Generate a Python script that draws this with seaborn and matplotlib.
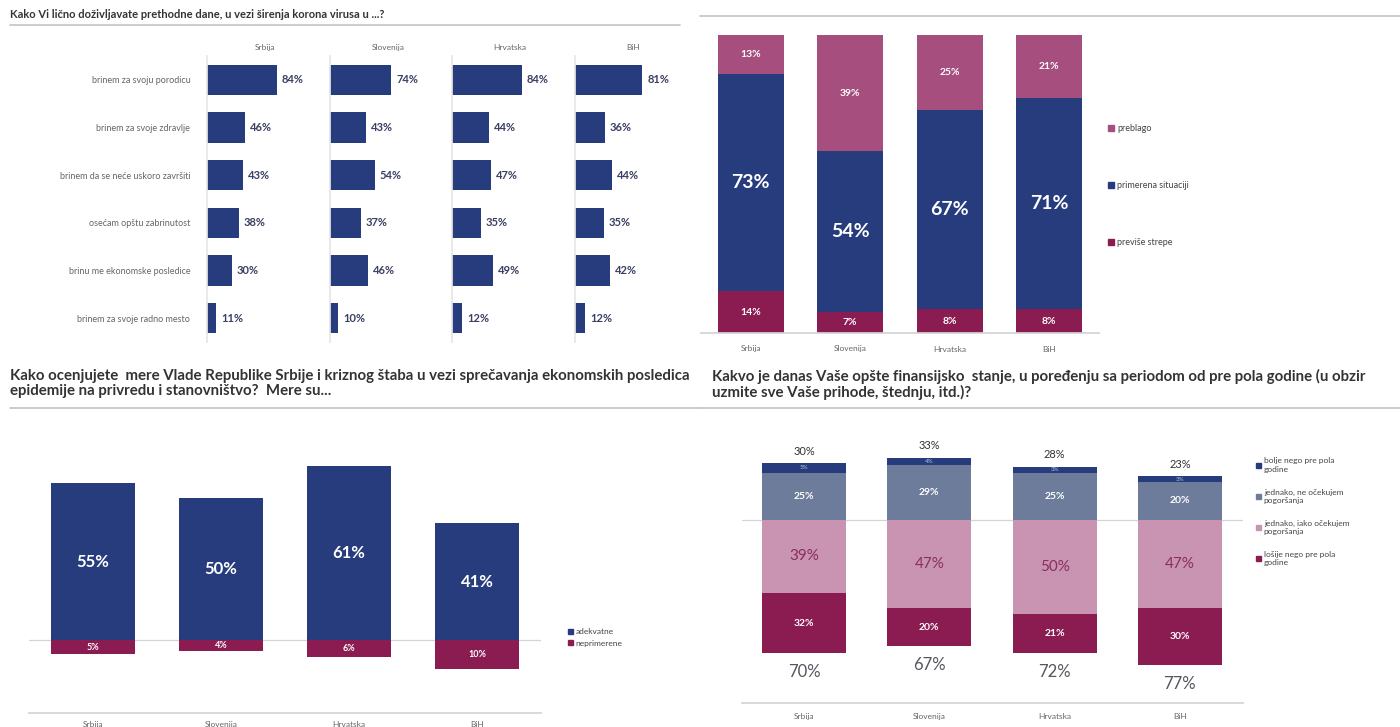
import pandas as pd
import seaborn as sns
import matplotlib.pyplot as plt
from matplotlib.lines import Line2D
from matplotlib.patches import Patch

countries = ['Srbija', 'Slovenija', 'Hrvatska', 'BiH']

# 1) licni dozivljaj - horizontalni barovi po zemlji
worry_labels = ['brinem za svoju porodicu', 'brinem za svoje zdravlje',
                'brinem da se neće uskoro završiti', 'osećam opštu zabrinutost',
                'brinu me ekonomske posledice', 'brinem za svoje radno mesto']
worry_srbija = [84, 46, 43, 38, 30, 11]
worry_slovenija = [74, 43, 54, 37, 46, 10]
worry_hrvatska = [84, 44, 47, 35, 49, 12]
worry_bih = [81, 36, 44, 35, 42, 12]

# 2) reakcija - 100% stacked
reaction_labels = ['preblago', 'primerena situaciji', 'previše strepe']
reaction_mild = [13, 39, 25, 21]
reaction_fit = [73, 54, 67, 71]
reaction_fear = [14, 7, 8, 8]

# 3) mere Vlade
measures_labels = ['adekvatne', 'neprimerene']
measures_ok = [55, 50, 61, 41]
measures_bad = [5, 4, 6, 10]

# 4) finansijsko stanje
finance_labels = ['bolje nego pre pola\ngodine', 'jednako, ne očekujem\npogoršanja',
                  'jednako, iako očekujem\npogoršanja', 'lošije nego pre pola\ngodine']
finance_better = [5, 4, 3, 3]
finance_same_ok = [25, 29, 25, 20]
finance_same_worry = [39, 47, 50, 47]
finance_worse = [32, 20, 21, 30]
finance_up_total = [30, 33, 28, 23]
finance_down_total = [70, 67, 72, 77]

NAVY = '#263c7c'
CRIMSON = '#8a1c52'
MAUVE = '#a64f7f'
SLATE = '#6c7c9a'
PINK = '#c994b1'
GRID = '#d4d4d4'
TXT = '#666666'

sns.set_theme(style='white')
plt.rcParams['font.family'] = ['Lato', 'DejaVu Sans']

W, H = 1400, 727
fig = plt.figure(figsize=(14, 7.27), dpi=100)


def px_box(x0, y0, x1, y1):
    return [x0 / W, 1 - y1 / H, (x1 - x0) / W, (y1 - y0) / H]


def hline(x0, x1, y):
    fig.add_artist(Line2D([x0 / W, x1 / W], [1 - y / H, 1 - y / H],
                          color='#c4c4c4', lw=1.2, transform=fig.transFigure))


def bar(ax, values, color, width):
    sns.barplot(x=countries, y=values, color=color, saturation=1, width=width,
                errorbar=None, linewidth=0, ax=ax)


# ---------- panel 1 ----------
fig.text(10 / W, 1 - 15 / H,
         'Kako Vi lično doživljavate prethodne dane, u vezi širenja korona virusa u ...?',
         fontsize=8, fontweight='bold', color='#333333', va='center')
hline(10, 680, 25)

worry_values = [worry_srbija, worry_slovenija, worry_hrvatska, worry_bih]
lefts = [207, 330, 452, 575]
for i, (name, vals, left) in enumerate(zip(countries, worry_values, lefts)):
    ax = fig.add_axes(px_box(left, 56, left + 83, 342))
    df = pd.DataFrame({'stavka': worry_labels, 'procenat': vals})
    sns.barplot(data=df, x='procenat', y='stavka', color=NAVY, saturation=1,
                width=0.63, errorbar=None, orient='h', linewidth=0, ax=ax)
    ax.set_xlim(0, 100)
    ax.set_xlabel('')
    ax.set_ylabel('')
    ax.set_xticks([])
    sns.despine(ax=ax, left=False, bottom=True)
    ax.spines['left'].set_color('#e6e6e6')
    if i == 0:
        ax.tick_params(axis='y', length=0, pad=12, labelsize=6.5, labelcolor=TXT)
    else:
        ax.tick_params(axis='y', length=0, labelleft=False)
    for j, v in enumerate(vals):
        ax.text(v + 6, j, f'{v}%', va='center', ha='left', fontsize=8,
                color='#3b3f63', fontweight='bold')
    ax.text(70, -0.68, name, ha='center', va='center', fontsize=6, color=TXT)

# ---------- panel 2 ----------
hline(700, 1400, 16)
ax2 = fig.add_axes(px_box(701, 35, 1099, 333))
mid_cum = [a + b for a, b in zip(reaction_fear, reaction_fit)]
top_cum = [a + b for a, b in zip(mid_cum, reaction_mild)]
bar(ax2, top_cum, MAUVE, 0.66)
bar(ax2, mid_cum, NAVY, 0.66)
bar(ax2, reaction_fear, CRIMSON, 0.66)
ax2.set_ylim(0, 100)
ax2.set_xlim(-0.5, 3.5)
ax2.set_yticks([])
sns.despine(ax=ax2, left=True)
ax2.spines['bottom'].set_color(GRID)
ax2.tick_params(axis='x', length=0, pad=9, labelsize=6, labelcolor=TXT)
for k in range(4):
    ax2.text(k, reaction_fear[k] / 2, f'{reaction_fear[k]}%', ha='center', va='center',
             color='white', fontsize=7.5, fontweight='bold')
    ax2.text(k, reaction_fear[k] + reaction_fit[k] / 2, f'{reaction_fit[k]}%', ha='center',
             va='center', color='white', fontsize=14, fontweight='bold')
    ax2.text(k, mid_cum[k] + reaction_mild[k] / 2, f'{reaction_mild[k]}%', ha='center',
             va='center', color='white', fontsize=7.5, fontweight='bold')
fig.legend(handles=[Patch(color=MAUVE), Patch(color=NAVY), Patch(color=CRIMSON)],
           labels=reaction_labels, loc='upper left', bbox_to_anchor=(1100 / W, 1 - 116 / H),
           frameon=False, fontsize=6.5, handlelength=0.6, handleheight=0.6,
           handletextpad=0.4, labelspacing=5.3, labelcolor='#444444')

# ---------- panel 3 ----------
fig.text(10 / W, 1 - 369 / H,
         'Kako ocenjujete  mere Vlade Republike Srbije i kriznog štaba u vezi sprečavanja '
         'ekonomskih posledica\nepidemije na privredu i stanovništvo?  Mere su...',
         fontsize=10.8, fontweight='bold', color='#333333', va='top', linespacing=1.1)
hline(10, 700, 408)
ax3 = fig.add_axes(px_box(29, 440, 541, 713))
bar(ax3, measures_ok, NAVY, 0.66)
bar(ax3, [-v for v in measures_bad], CRIMSON, 0.66)
ax3.set_ylim(-25.6, 70.2)
ax3.set_xlim(-0.5, 3.5)
ax3.axhline(0, color=GRID, lw=0.9, zorder=0)
ax3.set_yticks([])
sns.despine(ax=ax3, left=True)
ax3.spines['bottom'].set_color(GRID)
ax3.set_xticks([-0.5, 0.5, 1.5, 2.5, 3.5], minor=True)
ax3.tick_params(axis='x', which='minor', length=4, color=GRID, direction='inout')
ax3.tick_params(axis='x', which='major', length=0, pad=6, labelsize=6, labelcolor=TXT)
for k in range(4):
    ax3.text(k, measures_ok[k] / 2, f'{measures_ok[k]}%', ha='center', va='center',
             color='white', fontsize=12, fontweight='bold')
    ax3.text(k, -measures_bad[k] / 2, f'{measures_bad[k]}%', ha='center', va='center',
             color='white', fontsize=6.5, fontweight='bold')
fig.legend(handles=[Patch(color=NAVY), Patch(color=CRIMSON)], labels=measures_labels,
           loc='upper left', bbox_to_anchor=(560 / W, 1 - 621 / H), frameon=False,
           fontsize=6, handlelength=0.6, handleheight=0.6, handletextpad=0.4,
           labelspacing=0.5, labelcolor='#444444')

# ---------- panel 4 ----------
fig.text(712 / W, 1 - 369 / H,
         'Kakvo je danas Vaše opšte finansijsko  stanje, u poređenju sa periodom od pre pola '
         'godine (u obzir\nuzmite sve Vaše prihode, štednju, itd.)?',
         fontsize=10.8, fontweight='bold', color='#333333', va='top', linespacing=1.1)
hline(700, 1400, 408)
ax4 = fig.add_axes(px_box(741.5, 435, 1242.5, 703))
up_cum = [a + b for a, b in zip(finance_same_ok, finance_better)]
down_cum = [a + b for a, b in zip(finance_same_worry, finance_worse)]
bar(ax4, up_cum, NAVY, 0.67)
bar(ax4, finance_same_ok, SLATE, 0.67)
bar(ax4, [-v for v in down_cum], CRIMSON, 0.67)
bar(ax4, [-v for v in finance_same_worry], PINK, 0.67)
ax4.set_ylim(-97.3, 45)
ax4.set_xlim(-0.5, 3.5)
ax4.axhline(0, color=GRID, lw=0.9, zorder=0)
ax4.set_yticks([])
sns.despine(ax=ax4, left=True)
ax4.spines['bottom'].set_color(GRID)
ax4.set_xticks([-0.5, 0.5, 1.5, 2.5, 3.5], minor=True)
ax4.tick_params(axis='x', which='minor', length=4, color=GRID, direction='inout')
ax4.tick_params(axis='x', which='major', length=0, pad=7, labelsize=6, labelcolor=TXT)
for k in range(4):
    ax4.text(k, finance_same_ok[k] + finance_better[k] / 2, f'{finance_better[k]}%',
             ha='center', va='center', color='#b8bfd6', fontsize=4.5)
    ax4.text(k, finance_same_ok[k] / 2, f'{finance_same_ok[k]}%', ha='center', va='center',
             color='white', fontsize=7.5, fontweight='bold')
    ax4.text(k, -finance_same_worry[k] / 2, f'{finance_same_worry[k]}%', ha='center',
             va='center', color='#8a2d5f', fontsize=11)
    ax4.text(k, -finance_same_worry[k] - finance_worse[k] / 2, f'{finance_worse[k]}%',
             ha='center', va='center', color='white', fontsize=7.5, fontweight='bold')
    ax4.text(k, up_cum[k] + 6.5, f'{finance_up_total[k]}%', ha='center', va='center',
             color='#333333', fontsize=8)
    ax4.text(k, -down_cum[k] - 10, f'{finance_down_total[k]}%', ha='center', va='center',
             color='#55555f', fontsize=12)
fig.legend(handles=[Patch(color=NAVY), Patch(color=SLATE), Patch(color=PINK), Patch(color=CRIMSON)],
           labels=finance_labels, loc='upper left', bbox_to_anchor=(1248 / W, 1 - 450 / H),
           frameon=False, fontsize=6, handlelength=0.6, handleheight=0.6,
           handletextpad=0.4, labelspacing=1.9, labelcolor='#444444')

fig.savefig('out.png', dpi=100)
